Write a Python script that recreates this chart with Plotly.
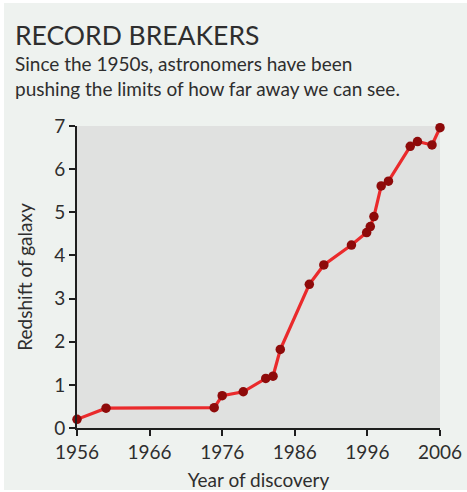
import plotly.graph_objects as go

years = [1956.0, 1960.0, 1974.9, 1976.0, 1978.9, 1982.0, 1983.0, 1984.0, 1988.0,
         1990.0, 1993.8, 1995.9, 1996.4, 1996.9, 1997.9, 1998.9, 2001.9, 2002.9,
         2004.9, 2006.0]
redshift = [0.20, 0.46, 0.47, 0.75, 0.84, 1.15, 1.20, 1.82, 3.33, 3.78, 4.24,
            4.53, 4.67, 4.90, 5.61, 5.72, 6.53, 6.64, 6.56, 6.96]
x_ticks = [1956, 1966, 1976, 1986, 1996, 2006]
y_ticks = [0, 1, 2, 3, 4, 5, 6, 7]

title_text = "RECORD BREAKERS"
subtitle_text = "Since the 1950s, astronomers have been<br>pushing the limits of how far away we can see."

FONT = "Lato"
TXT = "#2e2e2e"

fig = go.Figure()
fig.add_trace(go.Scatter(
    x=years, y=redshift, mode="lines+markers",
    line=dict(color="#ea2a2c", width=3.2),
    marker=dict(color="#8e0a0a", size=9.5, line=dict(width=0)),
    cliponaxis=False, hoverinfo="skip",
))

L, R, T, B = 77, 27, 126, 64
W, H = 467, 492
pw, ph = W - L - R, H - T - B

def px(x):
    return (x - L) / pw

def py(y):
    return (H - B - y) / ph

fig.update_layout(
    width=W, height=H,
    margin=dict(l=L, r=R, t=T, b=B, pad=0, autoexpand=False),
    paper_bgcolor="white",
    plot_bgcolor="#e0e1e0",
    showlegend=False,
    font=dict(family=FONT, color=TXT, size=19),
    xaxis=dict(
        range=[1956, 2006], tickvals=x_ticks, ticktext=[str(v) for v in x_ticks],
        showgrid=False, zeroline=False, showline=True, linecolor="#1e1e1e", linewidth=2,
        ticks="outside", ticklen=6, tickwidth=2, tickcolor="#1e1e1e",
        tickfont=dict(size=19, color=TXT), automargin=False,
        title=dict(text="Year of discovery", font=dict(size=19, color=TXT), standoff=12),
    ),
    yaxis=dict(
        range=[0, 7], tickvals=y_ticks,
        showgrid=False, zeroline=False, showline=True, linecolor="#1e1e1e", linewidth=2,
        ticks="outside", ticklen=6, tickwidth=2, tickcolor="#1e1e1e",
        tickfont=dict(size=19, color=TXT), automargin=False,
        ticklabelstandoff=0,
        title=dict(text="Redshift of galaxy", font=dict(size=19, color=TXT), standoff=17),
    ),
    shapes=[
        dict(type="rect", xref="paper", yref="paper",
             x0=px(4), x1=px(467), y0=py(490), y1=py(3),
             fillcolor="#eef2ef", line=dict(width=0), layer="below"),
        dict(type="rect", xref="paper", yref="paper",
             x0=0, x1=1, y0=0, y1=1,
             fillcolor="#e0e1e0", line=dict(width=0), layer="below"),
    ],
    annotations=[
        dict(text=title_text, xref="paper", yref="paper", x=px(13), y=py(17),
             xanchor="left", yanchor="top", showarrow=False,
             font=dict(family=FONT, size=26.5, color=TXT)),
        dict(text=subtitle_text, xref="paper", yref="paper", x=px(13), y=py(50),
             xanchor="left", yanchor="top", showarrow=False, align="left",
             font=dict(family=FONT, size=19, color=TXT)),
    ],
)

fig.write_html("out.html", config={"displayModeBar": False},
               post_script="document.body.style.margin='0';")
